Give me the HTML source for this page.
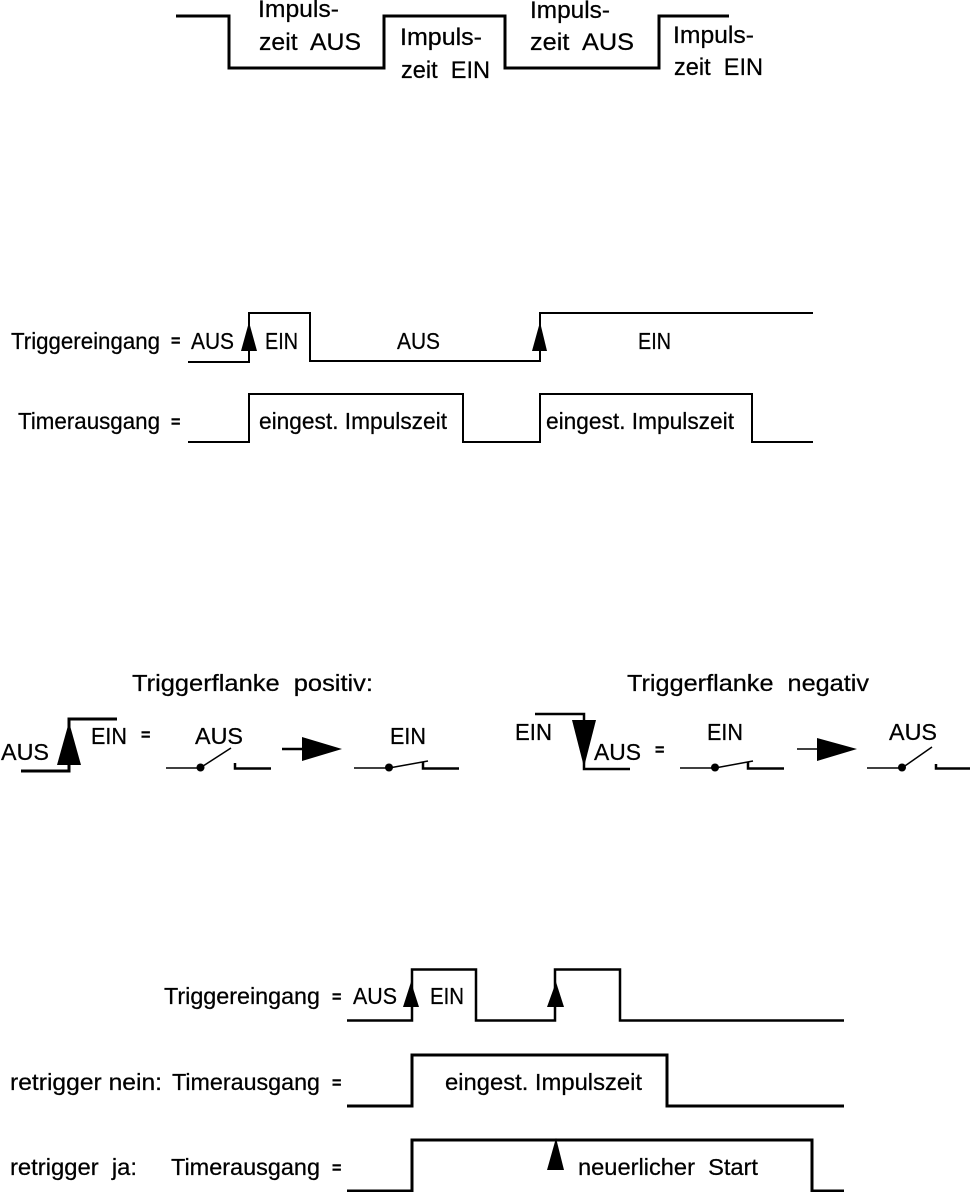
<!DOCTYPE html>
<html><head><meta charset="utf-8"><style>
html,body{margin:0;padding:0;background:#fff}
svg{display:block}
text{font-family:"Liberation Sans",sans-serif;fill:#000;stroke:#000;stroke-width:.25;white-space:pre}
.a{font-size:24.5px}.b{font-size:23px}.c{font-size:23px}
text.e{font-size:16px;font-weight:bold;stroke-width:.4}
.w{fill:none;stroke:#000;stroke-linejoin:miter}
</style></head><body>
<svg width="970" height="1192" viewBox="0 0 970 1192" xmlns="http://www.w3.org/2000/svg">
<polyline class="w" stroke-width="3" points="176,16 229,16 229,68 384,68 384,16 505,16 505,68 659,68 659,16 729,16"/>
<g class="a">
<text x="258" y="17" textLength="81" lengthAdjust="spacingAndGlyphs">Impuls-</text>
<text x="259" y="50" textLength="102" lengthAdjust="spacingAndGlyphs">zeit  AUS</text>
<text x="400" y="45" textLength="82" lengthAdjust="spacingAndGlyphs">Impuls-</text>
<text x="401" y="78" textLength="89" lengthAdjust="spacingAndGlyphs">zeit  EIN</text>
<text x="530" y="18" textLength="80" lengthAdjust="spacingAndGlyphs">Impuls-</text>
<text x="530" y="50" textLength="104" lengthAdjust="spacingAndGlyphs">zeit  AUS</text>
<text x="673" y="43" textLength="81" lengthAdjust="spacingAndGlyphs">Impuls-</text>
<text x="674" y="75" textLength="89" lengthAdjust="spacingAndGlyphs">zeit  EIN</text>
</g>

<polyline class="w" stroke-width="2" points="188,362 249,362 249,313 310,313 310,361 540,361 540,313 813,313"/>
<polyline class="w" stroke-width="2" points="188,442 249,442 249,394 463,394 463,442 540,442 540,394 752,394 752,442 813,442"/>
<polygon points="249,322 257,351 241,351"/>
<polygon points="540,322 547,351 532,351"/>
<g class="b">
<text x="11" y="349" textLength="149" lengthAdjust="spacingAndGlyphs">Triggereingang</text>
<text class="e" x="171" y="346">=</text>
<text x="191" y="349" textLength="43" lengthAdjust="spacingAndGlyphs">AUS</text>
<text x="265" y="349" textLength="33" lengthAdjust="spacingAndGlyphs">EIN</text>
<text x="397" y="349" textLength="43" lengthAdjust="spacingAndGlyphs">AUS</text>
<text x="638" y="349" textLength="33" lengthAdjust="spacingAndGlyphs">EIN</text>
<text x="18" y="429" textLength="142" lengthAdjust="spacingAndGlyphs">Timerausgang</text>
<text class="e" x="171" y="427">=</text>
<text x="259" y="429" textLength="188" lengthAdjust="spacingAndGlyphs">eingest. Impulszeit</text>
<text x="546" y="429" textLength="188" lengthAdjust="spacingAndGlyphs">eingest. Impulszeit</text>
</g>

<g class="c">
<text x="132" y="691" textLength="241" lengthAdjust="spacingAndGlyphs">Triggerflanke  positiv:</text>
<text x="627" y="691" textLength="242" lengthAdjust="spacingAndGlyphs">Triggerflanke  negativ</text>
<text x="1" y="760" textLength="48" lengthAdjust="spacingAndGlyphs">AUS</text>
<text x="91" y="744" textLength="36" lengthAdjust="spacingAndGlyphs">EIN</text>
<text class="e" x="141" y="740">=</text>
<text x="195" y="744" textLength="48" lengthAdjust="spacingAndGlyphs">AUS</text>
<text x="390" y="744" textLength="36" lengthAdjust="spacingAndGlyphs">EIN</text>
<text x="515" y="740" textLength="37" lengthAdjust="spacingAndGlyphs">EIN</text>
<text x="594" y="760" textLength="47" lengthAdjust="spacingAndGlyphs">AUS</text>
<text class="e" x="655" y="755">=</text>
<text x="707" y="740" textLength="36" lengthAdjust="spacingAndGlyphs">EIN</text>
<text x="889" y="740" textLength="48" lengthAdjust="spacingAndGlyphs">AUS</text>
</g>
<polyline class="w" stroke-width="3" points="21,771 69,771 69,719 117,719"/>
<polygon points="69,722 81,765 57,765"/>
<polyline class="w" stroke-width="2.5" points="535,714 584,714 584,769 630,769"/>
<polygon points="572,720 596,720 584,767"/>
<g stroke="#000" fill="none">
<line x1="166" y1="768" x2="200" y2="768" stroke-width="1.5"/>
<line x1="200" y1="768" x2="231" y2="748" stroke-width="1.5"/>
<polyline points="235,763 235,768.5 271,768.5" stroke-width="2.5"/>
<line x1="354" y1="768" x2="389" y2="768" stroke-width="1.5"/>
<line x1="389" y1="768" x2="428" y2="761" stroke-width="1.5"/>
<polyline points="423,762 423,768.5 459,768.5" stroke-width="2.5"/>
<line x1="680" y1="768" x2="715" y2="768" stroke-width="1.5"/>
<line x1="715" y1="768" x2="753" y2="761" stroke-width="1.5"/>
<polyline points="748,762 748,768.5 784,768.5" stroke-width="2.5"/>
<line x1="867" y1="768" x2="902" y2="768" stroke-width="1.5"/>
<line x1="902" y1="768" x2="932" y2="747" stroke-width="1.5"/>
<polyline points="936,764 936,768.5 970,768.5" stroke-width="2.5"/>
<line x1="282" y1="749" x2="303" y2="749" stroke-width="2.5"/>
<line x1="797" y1="749" x2="818" y2="749" stroke-width="1.5"/>
</g>
<circle cx="200.500" cy="767.500" r="4"/>
<circle cx="389" cy="767.500" r="4"/>
<circle cx="715" cy="767.500" r="4"/>
<circle cx="902" cy="767.500" r="4"/>
<polygon points="302,737 342,749 302,761"/>
<polygon points="817,738 857,749 817,761"/>

<polyline class="w" stroke-width="2.500" points="347,1020.500 412,1020.500 412,969.500 476,969.500 476,1020.500 555,1020.500 555,969.500 620,969.500 620,1020.500 844,1020.500"/>
<polyline class="w" stroke-width="3" points="347,1106 412,1106 412,1055 667,1055 667,1106 844,1106"/>
<polyline class="w" stroke-width="3" points="347,1191 412,1191 412,1140 812,1140 812,1191 844,1191"/>
<polygon points="411,982 419,1007 403,1007"/>
<polygon points="556,982 564,1007 547,1007"/>
<polygon points="556,1138 564,1170 547,1170"/>
<g class="c">
<text x="164" y="1004" textLength="156" lengthAdjust="spacingAndGlyphs">Triggereingang</text>
<text class="e" x="332" y="1002">=</text>
<text x="353" y="1004" textLength="44" lengthAdjust="spacingAndGlyphs">AUS</text>
<text x="430" y="1004" textLength="34" lengthAdjust="spacingAndGlyphs">EIN</text>
<text x="10" y="1090" textLength="152" lengthAdjust="spacingAndGlyphs">retrigger nein:</text>
<text x="172" y="1090" textLength="148" lengthAdjust="spacingAndGlyphs">Timerausgang</text>
<text class="e" x="332" y="1088">=</text>
<text x="445" y="1090" textLength="197" lengthAdjust="spacingAndGlyphs">eingest. Impulszeit</text>
<text x="10" y="1175" textLength="127" lengthAdjust="spacingAndGlyphs">retrigger  ja:</text>
<text x="171" y="1175" textLength="149" lengthAdjust="spacingAndGlyphs">Timerausgang</text>
<text class="e" x="332" y="1173">=</text>
<text x="578" y="1175" textLength="180" lengthAdjust="spacingAndGlyphs">neuerlicher  Start</text>
</g>
</svg>
</body></html>
